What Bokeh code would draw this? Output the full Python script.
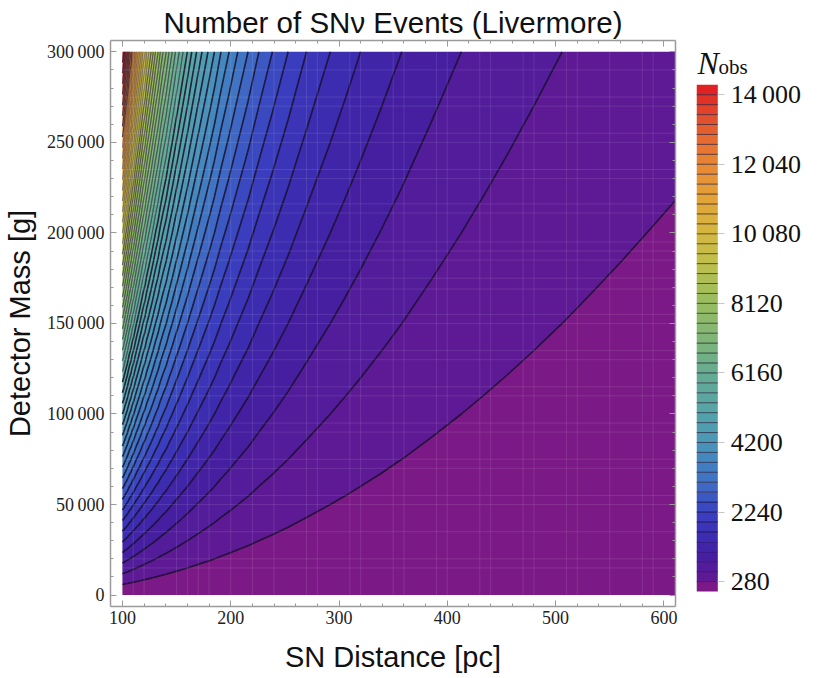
from bokeh.plotting import figure
from bokeh.layouts import row
from bokeh.embed import file_html
from bokeh.resources import INLINE
from bokeh.models import (Range1d, LinearAxis, SingleIntervalTicker, FixedTicker, Label)

TITLE = "Number of SN\u03bd Events (Livermore)"
X_LABEL = "SN Distance [pc]"
Y_LABEL = "Detector Mass [g]"

# Field: event count along the top edge (300 000 g) per distance,
# and zero along the bottom edge. Counts climb evenly with mass up any vertical line.
distance_pc = [100, 101.2, 102.2, 103.3, 104.5, 105.5, 106.5, 108, 109, 110.5, 111.7, 113, 114.5,
               116, 117.5, 119, 121, 122.5, 124.5, 126.5, 128.5, 130.5, 133, 135, 137.5, 140.5,
               143, 146, 149, 152.5, 156, 160, 164, 168.5, 173.5, 179, 185, 191, 198.5, 206.5,
               216, 226, 238.5, 253, 270, 292, 305, 320, 338, 358, 385, 413, 435, 455, 480, 506,
               530, 560, 585, 611]
top_edge_counts = [14280, 14000, 13720, 13440, 13160, 12880, 12600, 12320, 12040, 11760, 11480,
                   11200, 10920, 10640, 10360, 10080, 9800, 9520, 9240, 8960, 8680, 8400, 8120,
                   7840, 7560, 7280, 7000, 6720, 6440, 6160, 5880, 5600, 5320, 5040, 4760, 4480,
                   4200, 3920, 3640, 3360, 3080, 2800, 2520, 2240, 1960, 1680, 1540, 1400, 1256,
                   1120, 966, 840, 757, 692, 622, 560, 510, 457, 419, 385]
mass_rows_g = [0, 300000]

# Contour and colour-bar levels, every 280 events
levels = [0, 280, 560, 840, 1120, 1400, 1680, 1960, 2240, 2520, 2800, 3080, 3360, 3640, 3920, 4200,
          4480, 4760, 5040, 5320, 5600, 5880, 6160, 6440, 6720, 7000, 7280, 7560, 7840, 8120, 8400,
          8680, 8960, 9240, 9520, 9800, 10080, 10360, 10640, 10920, 11200, 11480, 11760, 12040,
          12320, 12600, 12880, 13160, 13440, 13720, 14000, 14280]

bar_ticks = [280, 2240, 4200, 6160, 8120, 10080, 12040, 14000]
bar_tick_labels = ["280", "2240", "4200", "6160", "8120", "10\u2009080", "12\u2009040", "14\u2009000"]
x_ticks_step = 100
y_ticks_step = 50000
y_tick_labels = {0: "0", 50000: "50\u2009000", 100000: "100\u2009000", 150000: "150\u2009000",
                 200000: "200\u2009000", 250000: "250\u2009000", 300000: "300\u2009000"}

# Faint mesh lines seen across the shaded area
mesh_x = [110, 120, 150, 160, 170, 180, 200, 220, 240, 270, 280, 310, 320, 350, 360, 390, 400, 430,
          440, 470, 480, 510, 520, 550, 580, 590]
mesh_y = [15000, 20000, 35000, 50000, 55000, 70000, 75000, 90000, 95000, 110000, 115000, 130000,
          135000, 150000, 155000, 169000, 175000, 185000, 190000, 195000, 211000, 216000, 230000,
          235000, 250000, 255000, 270000, 275000, 290000]

# Colours (count, colour)
anchor_counts = [140, 420, 1000, 1540, 2240, 3080, 3640, 4200, 5040, 6160, 7000, 8120, 9240, 10080,
                 11200, 12040, 13000, 13700, 14140]
anchor_colors = ["#7B1A86", "#5E1A94", "#451FA0", "#3C2CB0", "#3A41C0", "#3F70C4", "#4283C0",
                 "#4A96B8", "#55A4A8", "#65AC92", "#7DB47A", "#97BD60", "#BEBF4C", "#D4B840",
                 "#E4A038", "#E88833", "#E46030", "#E03C28", "#E02224"]


def band_color(c):
    for i in range(len(anchor_counts) - 1):
        a, b = anchor_counts[i], anchor_counts[i + 1]
        if a <= c <= b:
            t = (c - a) / (b - a)
            p, q = anchor_colors[i], anchor_colors[i + 1]
            rgb = [round(int(p[j:j + 2], 16) * (1 - t) + int(q[j:j + 2], 16) * t) for j in (1, 3, 5)]
            return "#%02x%02x%02x" % tuple(rgb)
    return anchor_colors[-1]


palette = [band_color((levels[i] + levels[i + 1]) / 2) for i in range(len(levels) - 1)]

SANS = "Liberation Sans"
SERIF = "Liberation Serif"
GRAY = "#9a9a9a"

p = figure(width=690, height=676, output_backend="svg", toolbar_location=None,
           x_range=Range1d(89, 610.7), y_range=Range1d(-6300, 306240),
           min_border_left=108, min_border_right=15, min_border_top=40, min_border_bottom=70,
           title=TITLE, background_fill_color="white", border_fill_color="white")
p.title.text_font = SANS
p.title.text_font_size = "29.5px"
p.title.text_font_style = "normal"
p.title.text_color = "#111111"
p.title.align = "center"
p.title.standoff = 4
p.outline_line_color = None
p.grid.visible = False

z = [[0 for _ in top_edge_counts], top_edge_counts]
n_lines = len(levels) - 2
line_alphas = [0.0] + [0.85 if i < 20 else 0.6 if i < 32 else 0.45 if i < 42 else 0.7
                       for i in range(n_lines)] + [0.0]
line_widths = [1.0] + [1.6 if i < 20 else 1.2 for i in range(n_lines)] + [1.0]
p.contour(distance_pc, mass_rows_g, z, levels, fill_color=palette,
          line_color="#140a28", line_alpha=line_alphas, line_width=line_widths)

p.segment(x0=mesh_x, y0=[0] * len(mesh_x), x1=mesh_x, y1=[300000] * len(mesh_x),
          line_color="white", line_alpha=0.1, line_width=1)
p.segment(x0=[100] * len(mesh_y), y0=mesh_y, x1=[610.7] * len(mesh_y), y1=mesh_y,
          line_color="white", line_alpha=0.1, line_width=1)


def style_axis(ax, step, labelled):
    ax.ticker = SingleIntervalTicker(interval=step, num_minor_ticks=5)
    ax.axis_line_color = GRAY
    ax.axis_line_width = 1.5
    ax.major_tick_line_color = GRAY
    ax.minor_tick_line_color = GRAY
    ax.major_tick_in = 6
    ax.major_tick_out = 0
    ax.minor_tick_in = 3
    ax.minor_tick_out = 0
    if labelled:
        ax.major_label_text_font = SERIF
        ax.major_label_text_font_size = "18px"
        ax.major_label_text_color = "#222222"
        ax.major_label_standoff = 6
        ax.axis_label_text_font = SANS
        ax.axis_label_text_font_size = "29px"
        ax.axis_label_text_font_style = "normal"
        ax.axis_label_text_color = "#111111"
    else:
        ax.major_label_text_color = None
        ax.major_label_text_font_size = "1px"
        ax.major_label_standoff = 0


style_axis(p.xaxis[0], x_ticks_step, True)
style_axis(p.yaxis[0], y_ticks_step, True)
p.xaxis[0].axis_label = X_LABEL
p.yaxis[0].axis_label = Y_LABEL
p.yaxis[0].major_label_overrides = y_tick_labels
p.yaxis[0].major_label_orientation = "horizontal"
p.xaxis[0].major_label_standoff = 4
p.xaxis[0].axis_label_standoff = 14
p.yaxis[0].axis_label_standoff = 8

top_ax = LinearAxis()
right_ax = LinearAxis()
style_axis(top_ax, x_ticks_step, False)
style_axis(right_ax, y_ticks_step, False)
p.add_layout(top_ax, "above")
p.add_layout(right_ax, "right")

# The colour bar's frame runs on to the right so that its texts are not clipped
bar = figure(width=132, height=676, output_backend="svg", toolbar_location=None,
             x_range=Range1d(0, 5.915), y_range=Range1d(-422, 15528),
             min_border_left=6, min_border_right=0, min_border_top=40, min_border_bottom=70,
             background_fill_color="white", border_fill_color="white")
bar.outline_line_color = None
bar.grid.visible = False
bar.xaxis.visible = False
bar.yaxis.visible = False
bar.quad(left=[0] * len(palette), right=[1] * len(palette), bottom=levels[:-1], top=levels[1:],
         fill_color=palette, line_color=None)
inner = levels[1:-1]
bar.segment(x0=[0] * len(inner), y0=inner, x1=[1] * len(inner), y1=inner,
            line_color="#140a28", line_alpha=0.65, line_width=1)
bar_ax = LinearAxis(ticker=FixedTicker(ticks=bar_ticks), fixed_location=1,
                    major_label_overrides=dict(zip(bar_ticks, bar_tick_labels)))
bar_ax.axis_line_color = None
bar_ax.major_tick_line_color = "#c8c8c8"
bar_ax.major_tick_in = 0
bar_ax.major_tick_out = 7
bar_ax.minor_tick_line_color = None
bar_ax.major_label_text_font = SERIF
bar_ax.major_label_text_font_size = "26px"
bar_ax.major_label_text_color = "#111111"
bar_ax.major_label_standoff = 6
bar.add_layout(bar_ax, "right")
bar.add_layout(Label(x=0.047, y=14889, text="N", text_font=SERIF,
                     text_font_style="italic", text_baseline="alphabetic",
                     text_font_size="32px", text_color="#111111"))
bar.add_layout(Label(x=1.03, y=14776, text="obs", text_font=SERIF,
                     text_baseline="alphabetic", text_font_size="21px", text_color="#111111"))

layout = row(p, bar, spacing=0)
open("out.html", "w").write(file_html(layout, INLINE))
